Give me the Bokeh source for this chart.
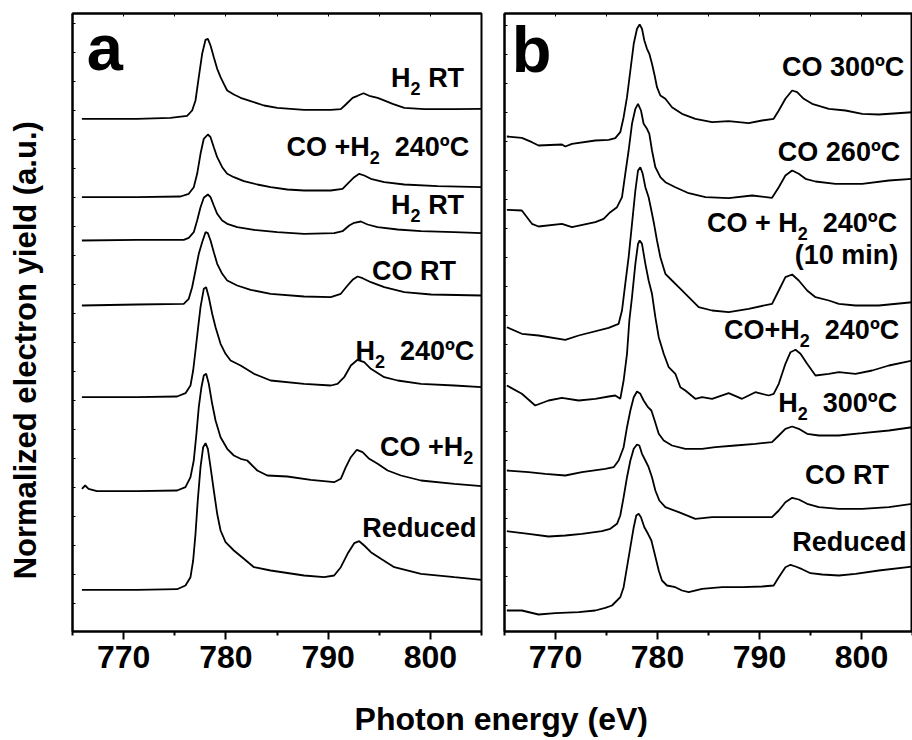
import numpy as np
from bokeh.plotting import figure
from bokeh.models import Range1d, LinearAxis, FixedTicker
from bokeh.layouts import column, row
from bokeh.embed import file_html
from bokeh.resources import INLINE
from bokeh.core.properties import value

FONT = "Liberation Sans"

# ---------------- data: (photon energy eV, offset intensity a.u.) ----------------
# Panel a
A_H2_RT_TOP = [(765.92,511.7),(771.31,511.7),(774.58,512.7),(776.21,514.7),(776.70,520.0),(777.03,530.0),(777.35,553.3),(777.68,576.7),(778.01,590.7),(778.24,591.7),(778.50,585.0),(778.82,573.3),(779.15,561.7),(779.48,553.3),(779.80,546.7),(780.13,540.0),(780.78,536.0),(781.44,532.7),(782.42,529.3),(783.73,525.0),(785.03,522.7),(787.65,520.7),(790.26,520.7),(791.24,521.3),(791.73,526.0),(792.39,532.7),(792.88,534.7),(793.46,537.3),(794.02,534.7),(794.84,532.7),(795.65,529.3),(796.31,526.7),(797.45,522.7),(799.41,521.3),(802.35,521.3),(805.0,521.7)]
A_COH2_240 = [(765.92,433.3),(771.31,433.3),(775.56,434.0),(776.37,436.7),(776.86,443.3),(777.19,456.7),(777.52,476.7),(777.84,491.7),(778.24,496.0),(778.50,493.3),(778.82,483.3),(779.15,473.3),(779.64,463.3),(780.13,456.7),(780.78,453.3),(781.76,449.3),(783.07,446.0),(784.38,443.3),(786.01,441.0),(787.65,440.0),(790.26,440.0),(791.41,441.7),(792.06,448.3),(792.55,453.3),(793.04,456.7),(793.53,455.0),(794.18,451.7),(795.49,448.3),(797.45,446.0),(800.72,444.3),(805.0,443.3)]
A_H2_RT_2 = [(765.92,390.0),(771.31,390.7),(775.88,390.7),(776.37,392.7),(776.86,398.3),(777.19,410.0),(777.52,423.3),(777.84,432.7),(778.24,436.0),(778.50,433.3),(778.82,425.0),(779.15,416.7),(779.64,410.0),(780.13,406.7),(781.11,403.3),(782.75,400.7),(785.03,398.3),(787.65,396.7),(790.59,397.3),(791.41,399.3),(792.06,405.0),(792.55,407.7),(793.20,409.0),(793.86,406.0),(794.84,403.3),(796.80,401.0),(799.08,399.3),(802.35,398.3),(805.0,397.3)]
A_CO_RT = [(765.92,325.0),(771.31,326.0),(775.88,326.7),(776.37,331.7),(776.70,343.3),(777.03,360.0),(777.35,376.7),(777.68,388.3),(778.01,398.3),(778.24,397.3),(778.50,390.0),(778.82,378.3),(779.15,366.7),(779.64,356.7),(780.13,350.0),(781.11,345.0),(782.42,340.7),(784.38,336.7),(787.65,334.0),(790.26,333.3),(791.24,336.7),(791.90,345.0),(792.39,350.7),(792.88,354.0),(793.37,352.3),(794.18,348.3),(795.49,343.3),(797.45,338.3),(800.07,336.0),(805.0,335.0)]
A_H2_240 = [(765.92,233.3),(771.31,233.3),(775.23,234.0),(776.05,237.3),(776.54,245.0),(776.80,260.0),(777.03,280.0),(777.29,303.3),(777.52,323.3),(777.84,341.7),(778.07,343.3),(778.33,333.3),(778.66,316.7),(778.99,303.3),(779.48,286.7),(779.97,276.7),(780.46,270.0),(781.44,265.0),(782.75,256.7),(784.38,250.0),(787.65,246.7),(790.26,245.0),(790.92,246.7),(791.57,253.3),(792.22,265.0),(792.88,270.7),(793.53,268.3),(794.18,261.7),(795.49,253.3),(796.80,250.0),(799.08,246.7),(802.35,245.0),(805.0,243.3)]
A_COH2 = [(765.92,141.7),(766.24,145.0),(766.57,141.7),(767.39,139.3),(771.31,139.3),(775.23,140.0),(776.05,143.3),(776.54,153.3),(776.86,170.0),(777.12,196.7),(777.35,223.3),(777.61,243.3),(777.84,255.0),(778.07,256.7),(778.33,246.7),(778.66,226.7),(778.99,210.0),(779.48,193.3),(780.13,181.7),(780.78,175.0),(781.44,171.7),(782.09,170.0),(783.07,160.0),(784.05,155.0),(786.01,154.0),(788.30,150.7),(790.59,148.3),(791.24,151.7),(791.73,163.3),(792.22,173.3),(792.81,180.7),(793.37,178.3),(794.02,171.7),(794.84,166.7),(795.82,160.0),(797.12,155.0),(799.08,150.0),(802.35,146.7),(805.0,144.3)]
A_REDUCED = [(765.92,40.7),(771.31,40.7),(775.23,41.3),(776.05,45.0),(776.54,53.3),(776.80,70.0),(777.03,96.7),(777.25,130.0),(777.52,163.3),(777.78,183.3),(778.01,187.3),(778.24,181.7),(778.50,163.3),(778.82,140.0),(779.15,116.7),(779.48,100.0),(779.97,88.3),(780.78,80.0),(781.76,71.7),(782.75,63.3),(784.38,60.0),(787.65,55.0),(789.61,53.3),(790.59,55.0),(791.24,63.3),(791.90,76.7),(792.55,87.3),(793.04,89.3),(793.53,85.0),(794.18,78.3),(795.16,71.7),(796.47,63.3),(799.08,56.7),(802.35,53.3),(805.0,50.7)]

# Panel b
B_CO_300 = [(765.23,496.0),(766.70,494.7),(767.69,490.3),(768.34,487.0),(770.63,488.0),(770.96,486.0),(771.61,488.7),(773.90,492.0),(775.21,492.7),(775.86,494.3),(776.35,500.3),(776.68,515.3),(777.01,535.3),(777.34,562.0),(777.67,588.7),(777.99,603.7),(778.25,608.0),(778.48,603.7),(778.71,592.0),(778.97,583.7),(779.20,578.7),(779.46,568.7),(779.72,557.0),(779.95,545.3),(780.28,537.0),(780.77,533.7),(781.42,525.3),(782.40,518.7),(783.71,513.7),(785.35,510.3),(786.98,511.3),(788.94,509.3),(790.25,512.0),(791.39,513.7),(791.89,522.0),(792.54,533.7),(793.20,542.0),(793.69,540.3),(794.34,533.7),(795.16,528.7),(796.80,523.7),(798.43,522.0),(800.07,518.7),(801.70,518.0),(805.0,520.3)]
B_CO_260 = [(765.23,422.7),(766.70,422.0),(767.69,408.7),(768.34,406.0),(770.63,408.7),(771.61,405.3),(773.90,410.3),(774.72,413.7),(775.37,420.3),(776.03,425.3),(776.52,435.3),(776.84,458.7),(777.17,482.0),(777.50,508.7),(777.83,523.7),(778.09,528.7),(778.38,522.0),(778.64,508.7),(778.97,503.7),(779.20,498.7),(779.46,482.0),(779.79,465.3),(780.28,455.3),(780.77,450.3),(781.75,445.3),(783.06,439.3),(784.70,435.3),(786.98,434.3),(789.27,437.0),(791.23,434.7),(791.89,445.3),(792.54,457.0),(793.20,462.0),(793.85,458.7),(794.51,453.7),(795.49,451.0),(797.45,448.7),(800.07,448.7),(802.69,452.0),(805.0,453.7)]
B_COH2_240_10MIN = [(765.23,305.3),(766.70,298.7),(768.34,297.0),(770.96,292.7),(772.27,297.0),(775.21,304.7),(776.19,308.7),(776.52,322.0),(776.84,348.7),(777.17,375.3),(777.50,408.7),(777.83,442.0),(778.09,462.0),(778.32,465.3),(778.55,458.7),(778.81,445.3),(779.13,435.3),(779.40,422.0),(779.66,408.7),(779.95,392.0),(780.28,375.3),(780.77,358.7),(781.42,352.0),(782.08,345.3),(783.06,335.3),(784.04,325.3),(785.35,322.0),(786.98,320.3),(788.94,323.7),(791.23,328.7),(791.89,342.0),(792.54,355.3),(793.20,358.0),(793.85,352.0),(794.67,342.0),(795.49,335.3),(796.80,332.0),(797.78,328.7),(799.41,327.0),(801.70,327.0),(805.0,330.3)]
B_COH2_240 = [(765.23,247.0),(766.70,238.7),(768.01,227.0),(769.32,232.0),(770.63,234.7),(772.27,232.0),(773.90,233.7),(775.21,236.0),(775.86,237.0),(776.35,233.7),(776.68,252.0),(777.01,278.7),(777.24,312.0),(777.50,335.3),(777.83,368.7),(778.09,388.7),(778.25,392.0),(778.48,388.7),(778.81,368.7),(779.13,352.0),(779.46,338.7),(779.79,315.3),(780.12,295.3),(780.61,278.7),(781.10,265.3),(781.75,258.7),(782.24,245.3),(782.73,242.0),(783.71,233.7),(784.37,235.3),(785.35,233.7),(786.98,239.3),(788.29,233.7),(789.59,240.3),(790.90,237.0),(791.39,238.7),(791.89,248.7),(792.54,268.7),(793.04,280.3),(793.53,282.7),(794.02,278.7),(794.67,268.7),(795.49,257.0),(796.80,258.7),(797.78,260.3),(799.41,258.7),(801.05,262.0),(802.69,267.0),(805.0,272.0)]
B_H2_300 = [(765.23,162.0),(767.36,160.3),(768.99,158.7),(770.96,157.0),(772.59,160.3),(774.88,163.7),(775.70,165.3),(776.19,172.0),(776.68,185.3),(777.01,205.3),(777.34,222.0),(777.67,235.3),(777.99,241.0),(778.32,238.7),(778.64,232.0),(779.07,225.3),(779.40,222.0),(779.72,212.0),(780.12,198.7),(780.61,192.0),(781.42,187.0),(782.73,183.7),(784.37,183.7),(785.67,185.3),(787.63,187.0),(789.59,188.7),(791.23,190.3),(791.89,197.0),(792.54,203.7),(793.20,206.0),(793.85,203.7),(794.67,198.7),(795.82,197.0),(797.78,197.0),(800.07,199.3),(802.69,202.0),(805.0,205.3)]
B_CO_RT = [(765.23,101.3),(767.36,98.7),(769.32,96.0),(770.96,97.0),(772.59,98.7),(774.55,101.3),(775.37,103.7),(776.03,108.7),(776.35,117.0),(776.68,135.3),(777.01,155.3),(777.34,172.0),(777.67,183.7),(777.99,188.0),(778.22,187.0),(778.48,178.7),(778.81,172.0),(779.13,165.3),(779.46,155.3),(779.79,142.0),(780.18,132.0),(780.77,125.3),(782.08,120.3),(783.71,113.7),(785.35,115.3),(786.98,115.3),(788.94,115.3),(791.23,115.3),(791.89,122.0),(792.54,130.3),(793.20,134.7),(793.85,133.0),(794.67,128.7),(795.82,125.3),(797.78,123.7),(800.07,123.7),(802.69,125.3),(805.0,128.7)]
B_REDUCED = [(765.23,22.0),(766.70,22.0),(768.34,18.0),(769.98,19.3),(772.27,20.3),(773.90,22.0),(774.88,24.7),(775.54,27.0),(776.03,32.0),(776.35,35.3),(776.68,45.3),(777.01,65.3),(777.34,85.3),(777.67,105.3),(777.92,117.0),(778.15,118.7),(778.38,115.3),(778.71,105.3),(779.07,98.7),(779.40,92.0),(779.72,78.7),(780.12,62.0),(780.44,52.0),(780.93,47.0),(781.75,45.3),(782.40,42.0),(783.06,40.3),(784.37,43.7),(786.33,45.3),(788.29,45.3),(790.25,46.0),(791.39,47.0),(791.89,55.3),(792.54,65.3),(793.04,67.7),(793.53,66.0),(794.18,63.3),(795.00,59.3),(796.15,58.0),(797.78,57.0),(799.41,58.7),(801.70,62.0),(805.0,66.0)]

A_SPECTRA = [A_H2_RT_TOP, A_COH2_240, A_H2_RT_2, A_CO_RT, A_H2_240, A_COH2, A_REDUCED]
B_SPECTRA = [B_CO_300, B_CO_260, B_COH2_240_10MIN, B_COH2_240, B_H2_300, B_CO_RT, B_REDUCED]

# labels: (right edge energy, baseline intensity, parts); "m" = main text, "s" = subscript
A_LABELS = [
    (803.3, 542.0, [("H", "m"), ("2", "s"), (" RT", "m")]),
    (803.8, 473.3, [("CO +H", "m"), ("2", "s"), ("  240ºC", "m")]),
    (803.3, 415.0, [("H", "m"), ("2", "s"), (" RT", "m")]),
    (802.5, 349.3, [("CO RT", "m")]),
    (804.3, 269.0, [("H", "m"), ("2", "s"), ("  240ºC", "m")]),
    (804.2, 173.3, [("CO +H", "m"), ("2", "s")]),
    (804.5, 91.7, [("Reduced", "m")]),
]
B_LABELS = [
    (804.2, 554.7, [("CO 300ºC", "m")]),
    (803.8, 469.7, [("CO 260ºC", "m")]),
    (803.5, 398.7, [("CO + H", "m"), ("2", "s"), ("  240ºC", "m")]),
    (803.6, 367.0, [("(10 min)", "m")]),
    (803.7, 292.0, [("CO+H", "m"), ("2", "s"), ("  240ºC", "m")]),
    (803.5, 218.7, [("H", "m"), ("2", "s"), ("  300ºC", "m")]),
    (802.7, 147.0, [("CO RT", "m")]),
    (804.4, 80.3, [("Reduced", "m")]),
]

X_MAJOR = [770, 780, 790, 800]
X_MINOR = [765, 775, 785, 795, 805]
X_TOP = [765, 770, 775, 780, 785, 790, 795, 800, 805]
Y_LABEL = "Normalized electron yield (a.u.)"
X_LABEL = "Photon energy (eV)"

# ---------------- style ----------------
MAIN = 27
SUB = 18
SUB_DROP = 7
BASE_FIX = 0.39   # alphabetic-baseline correction (fraction of font size)
ADV = {' ': 278, '(': 333, ')': 333, '+': 584, 'C': 722, 'H': 722, 'O': 778, 'R': 722,
       'T': 611, 'e': 556, 'd': 611, 'u': 611, 'c': 556, 'm': 889, 'i': 278, 'n': 611,
       'º': 365}


def tw(s, size):
    return sum(ADV.get(ch, 556) for ch in s) / 1000.0 * size


def put_text(p, x, y, txt, size, align="left", dx=0.0, dy=0.0, angle=0.0):
    p.text(x=[x], y=[y], text=[txt], x_offset=dx, y_offset=dy - BASE_FIX * size, angle=angle,
           text_align=align, text_baseline="alphabetic", text_font=value(FONT),
           text_font_style="bold", text_font_size=f"{size}px", text_color="black")


def add_label(p, x, y, parts):
    off = 0.0
    for txt, kind in reversed(parts):
        size = MAIN if kind == "m" else SUB
        drop = 0 if kind == "m" else SUB_DROP
        trail = tw(txt, size) - tw(txt.rstrip(), size)
        put_text(p, x, y, txt.strip(), size, align="right", dx=-(off + trail), dy=drop)
        off += tw(txt, size)


def hide_labels(ax):
    ax.major_label_text_color = None
    ax.major_label_text_font_size = "1px"
    ax.major_label_standoff = 0


def make_panel(spectra, labels, letter, y_range, left_border, frame_w, right_border):
    p = figure(width=left_border + frame_w + right_border, height=690,
               frame_width=frame_w, frame_height=618,
               min_border_left=left_border, min_border_right=right_border,
               min_border_top=13, min_border_bottom=59, title_location=None,
               x_range=Range1d(765, 805), y_range=Range1d(*y_range),
               output_backend="svg", toolbar_location=None)
    p.background_fill_color = "white"
    p.border_fill_color = "white"
    p.xgrid.visible = False
    p.ygrid.visible = False
    p.outline_line_color = "black"
    p.outline_line_width = 2

    xa = p.xaxis[0]
    xa.ticker = FixedTicker(ticks=X_MAJOR, minor_ticks=X_MINOR)
    xa.major_tick_out = 8
    xa.major_tick_in = 0
    xa.minor_tick_out = 4
    xa.minor_tick_in = 0
    xa.axis_line_width = 2
    xa.major_tick_line_width = 2
    xa.minor_tick_line_width = 2
    xa.major_label_standoff = 6
    xa.major_label_text_font = FONT
    xa.major_label_text_font_style = "bold"
    xa.major_label_text_font_size = "32px"
    xa.major_label_text_color = "black"

    ya = p.yaxis[0]
    ya.ticker = FixedTicker(ticks=list(np.arange(27, 617, 29.0)))
    ya.major_tick_in = 3
    ya.major_tick_out = 0
    ya.minor_tick_line_color = None
    ya.axis_line_width = 2
    ya.major_tick_line_width = 1
    hide_labels(ya)

    top = LinearAxis(ticker=FixedTicker(ticks=X_TOP))
    top.major_tick_in = 3
    top.major_tick_out = 0
    top.minor_tick_line_color = None
    top.major_tick_line_width = 1
    top.axis_line_width = 2
    hide_labels(top)
    p.add_layout(top, "above")

    for spec in spectra:
        e = [pt[0] for pt in spec]
        i = [pt[1] for pt in spec]
        p.line(e, i, line_color="black", line_width=1.8)

    for x, y, parts in labels:
        add_label(p, x, y, parts)

    put_text(p, letter[1], letter[2], letter[0], 65)
    return p


# y-label strip (pixel coordinates of the strip itself)
YL_SIZE = 31
py_ = figure(width=44, height=690, x_range=Range1d(0, 44), y_range=Range1d(0, 690),
             x_axis_type=None, y_axis_type=None, min_border=0, title_location=None,
             output_backend="svg", toolbar_location=None)
py_.outline_line_color = None
py_.xgrid.visible = False
py_.ygrid.visible = False
py_.text(x=[37.0 - BASE_FIX * YL_SIZE], y=[314.0], text=[Y_LABEL], angle=np.pi / 2,
         text_align="center", text_baseline="alphabetic", text_font=value(FONT),
         text_font_style="bold", text_font_size=f"{YL_SIZE}px", text_color="black")

pa = make_panel(A_SPECTRA, A_LABELS, ("a", 766.4, 558.0), (-1, 617), 28, 409, 11)
pb = make_panel(B_SPECTRA, B_LABELS, ("b", 765.7, 558.0), (1, 619), 12, 408, 0)

pl = figure(width=912, height=50, x_range=Range1d(0, 912), y_range=Range1d(0, 50),
            x_axis_type=None, y_axis_type=None, min_border=0, title_location=None,
            output_backend="svg", toolbar_location=None)
pl.outline_line_color = None
pl.xgrid.visible = False
pl.ygrid.visible = False
put_text(pl, 500.8, 9, X_LABEL, 32, align="center")

layout = column(row(py_, pa, pb), pl)
open("out.html", "w").write(file_html(layout, INLINE))
